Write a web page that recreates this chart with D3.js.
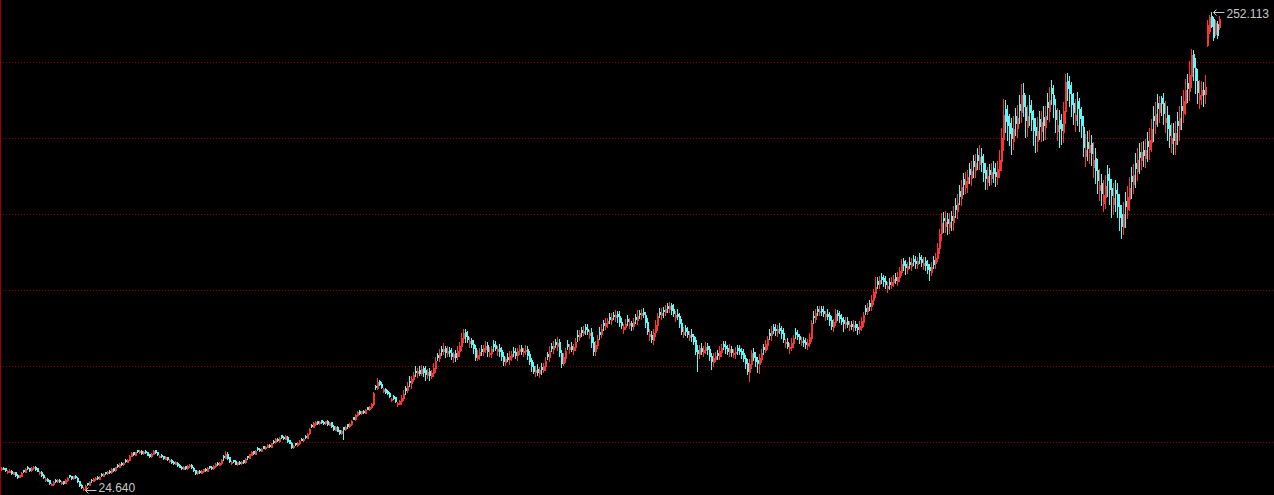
<!DOCTYPE html>
<html><head><meta charset="utf-8">
<script src="https://cdn.jsdelivr.net/npm/d3@7"></script>
<style>html,body{margin:0;padding:0;background:#000;overflow:hidden}</style>
</head><body>
<svg id="chart" width="1274" height="495"></svg>
<script>
const open = [
34.4,35.3,34.9,33.0,33.4,33.8,32.4,33.1,31.8,30.9,
31.5,34.0,33.3,35.5,35.0,34.0,34.9,35.6,34.9,32.6,
33.3,32.0,29.3,30.0,29.2,27.1,27.5,29.6,28.7,29.6,
27.9,28.7,28.1,29.4,31.6,31.1,30.4,31.4,30.4,28.8,
27.2,25.0,25.4,27.8,27.2,29.6,29.0,29.7,30.8,30.0,
32.3,31.5,33.1,32.5,33.7,33.2,34.9,34.2,36.5,35.8,
37.6,36.8,39.0,38.1,39.0,40.9,42.5,41.5,43.6,42.5,
43.4,42.1,43.4,42.5,41.6,40.7,41.9,43.5,42.6,40.5,
41.4,40.7,39.6,40.2,38.4,39.0,38.1,37.1,37.6,36.6,
35.8,34.8,35.9,35.1,35.9,36.6,35.2,34.0,32.6,33.9,
32.9,33.5,34.8,33.9,35.9,35.8,35.0,36.0,37.5,36.6,
37.5,40.8,40.0,42.0,40.2,37.5,38.8,38.5,37.0,38.2,
37.3,38.7,37.9,40.7,40.0,41.4,43.0,42.0,44.6,44.3,
43.4,45.4,44.6,45.2,46.2,45.2,48.1,47.3,49.1,48.0,
50.6,50.0,49.1,50.0,48.2,47.0,44.9,46.9,46.1,46.9,
49.1,48.3,50.5,49.6,51.6,55.8,54.8,56.1,57.4,56.3,
57.8,57.2,56.4,57.5,55.8,56.8,55.3,53.4,54.6,53.1,
51.6,54.4,53.6,55.9,55.0,56.0,59.2,58.4,60.3,62.2,
61.2,62.3,61.5,64.0,63.2,64.1,65.6,74.3,73.0,76.3,
75.3,71.8,72.8,71.6,70.9,67.6,69.4,68.7,65.4,65.8,
67.0,68.4,73.2,72.2,76.6,75.6,77.4,81.4,80.2,81.8,
80.4,82.6,81.6,79.6,81.2,79.0,80.5,82.7,89.0,87.6,
91.8,90.6,92.0,89.8,91.4,90.0,88.1,89.6,88.2,90.6,
93.2,96.8,99.8,98.0,94.6,95.8,94.2,92.2,87.6,88.7,
91.8,90.6,91.8,93.6,89.2,89.8,94.2,93.6,90.8,92.0,
91.2,88.6,85.6,88.0,86.8,88.0,91.0,90.4,88.8,90.6,
92.0,90.2,90.6,91.8,89.2,86.4,83.6,80.8,82.2,80.4,
83.0,81.8,83.6,89.2,87.8,93.0,91.6,95.0,93.2,95.0,
89.8,85.0,87.6,94.0,91.6,93.0,91.4,92.8,98.6,97.4,
100.6,99.4,102.0,101.2,98.6,99.6,95.2,90.8,93.6,99.8,
98.8,104.0,102.6,104.0,107.0,105.6,108.0,106.8,108.4,107.6,
104.4,101.4,102.4,106.2,103.2,104.0,102.6,106.8,105.6,109.0,
107.8,109.2,108.0,104.4,97.8,98.6,96.2,99.6,103.0,109.4,
107.8,110.4,109.2,112.2,110.8,112.6,110.8,107.2,108.6,107.6,
104.0,98.8,101.6,100.4,97.6,99.0,97.8,95.8,91.4,89.2,
92.4,90.2,91.2,93.0,91.6,88.4,85.6,87.2,90.0,88.6,
90.2,94.2,93.4,92.0,90.4,91.8,89.2,89.6,92.2,91.6,
90.8,89.6,87.6,85.2,80.8,84.6,90.2,88.0,86.4,84.4,
87.2,92.6,91.4,93.8,99.4,98.2,102.0,101.4,100.0,101.8,
101.0,99.4,94.4,95.2,92.0,92.6,94.4,99.8,99.0,97.8,
95.0,96.0,95.0,93.6,94.6,97.2,107.4,106.2,110.6,109.2,
110.8,110.0,107.4,108.6,107.8,105.4,102.4,104.6,108.8,108.0,
106.6,105.4,103.6,105.2,102.6,103.8,102.0,103.6,102.4,101.2,
102.4,104.8,111.2,109.8,113.4,112.0,115.0,118.4,124.0,122.6,
126.0,125.4,124.2,120.8,123.8,122.4,123.8,126.0,124.2,126.0,
128.6,133.4,132.2,129.8,133.2,131.4,134.6,133.8,132.0,135.6,
134.6,131.6,133.4,132.0,130.6,128.6,134.0,132.6,135.2,140.0,
146.8,154.2,150.4,153.6,149.6,155.0,152.4,160.4,157.6,166.8,
163.6,172.6,168.8,170.6,177.4,173.0,181.0,177.0,184.0,180.0,
183.6,180.4,176.8,171.4,177.0,173.2,178.0,176.2,173.4,177.0,
181.0,191.6,206.0,202.6,199.4,196.8,190.6,202.8,197.0,208.4,
204.6,213.8,207.0,197.6,208.0,205.0,201.6,197.4,190.6,201.0,
195.6,202.2,197.2,209.4,205.0,216.0,212.4,205.6,195.4,200.6,
198.6,195.0,204.8,219.4,217.6,213.0,208.8,200.8,209.6,205.8,
202.4,197.6,183.4,190.4,185.6,189.6,178.4,182.6,177.0,167.4,
170.6,161.2,164.0,175.2,172.8,168.4,160.8,167.6,165.4,160.2,
156.0,149.6,162.0,158.4,163.0,174.0,170.2,180.4,176.6,185.4,
181.6,186.6,182.6,190.6,186.8,190.2,202.8,198.6,208.6,204.6,
211.0,209.0,199.6,203.0,198.4,189.6,194.4,189.4,200.4,196.4,
207.6,204.0,208.6,218.4,214.6,221.6,232.0,225.6,219.2,210.8,
212.8,215.2,213.2,236.4,243.0,250.2,248.8,241.5,246.6,244.8
];
const high = [
35.5,35.7,35.2,34.1,34.4,34.0,33.4,33.3,32.1,32.0,
33.0,34.3,35.0,35.9,35.3,35.5,36.0,35.9,35.1,33.6,
33.5,32.2,30.6,30.3,29.4,28.2,28.7,29.9,29.9,29.9,
28.9,29.0,29.7,30.8,31.9,31.4,31.5,31.7,30.7,29.1,
27.5,26.2,26.8,28.1,28.9,29.9,30.3,30.8,31.1,31.4,
32.6,32.6,33.4,33.8,34.0,35.0,35.2,35.8,36.8,37.6,
37.9,38.0,39.3,39.3,41.2,42.6,42.8,42.9,43.9,43.6,
43.7,43.3,43.7,42.8,41.9,42.3,43.6,43.8,42.9,41.3,
41.7,41.0,40.7,40.5,39.3,39.3,38.4,38.3,37.9,36.9,
36.1,36.0,36.2,36.6,36.9,36.9,35.5,34.3,33.9,34.2,
34.0,34.8,35.1,35.4,36.2,36.1,36.5,37.4,37.8,38.0,
39.5,41.1,43.2,42.6,40.5,38.4,39.1,38.8,38.2,38.5,
38.6,39.0,39.8,41.0,42.0,43.1,43.3,43.7,44.9,44.6,
44.5,45.7,45.7,46.5,46.5,47.2,48.4,49.3,49.4,49.8,
50.9,50.3,50.7,50.3,48.5,47.3,46.2,47.2,47.4,48.2,
49.4,49.5,50.8,51.9,54.1,56.1,56.8,57.5,57.7,57.7,
58.1,57.5,57.7,57.8,57.0,57.1,55.6,54.9,54.9,53.4,
53.0,54.7,55.0,56.2,56.5,57.9,59.5,60.8,62.2,62.5,
62.4,62.6,63.1,64.3,64.6,66.2,71.4,74.8,78.0,77.2,
75.8,73.2,73.3,72.0,71.3,68.6,69.8,69.1,66.6,67.6,
69.8,72.4,74.2,76.0,79.0,78.7,81.0,83.6,82.6,83.6,
84.2,83.6,83.7,82.3,82.9,81.6,85.2,87.8,90.0,91.7,
93.4,94.4,93.2,93.0,92.7,92.0,90.4,91.3,93.4,94.9,
99.3,101.4,101.2,100.2,97.3,96.9,96.1,93.6,91.3,92.2,
93.6,93.5,95.5,95.0,92.6,93.1,95.9,95.7,93.1,93.9,
92.6,90.5,88.1,89.7,90.6,90.9,92.6,92.4,92.1,93.7,
93.7,92.3,93.7,93.2,91.0,87.5,85.6,83.5,84.5,83.0,
84.9,85.2,87.9,90.3,93.2,94.5,95.5,96.4,97.6,96.4,
91.4,89.8,92.3,95.9,94.3,95.1,94.0,96.9,101.0,100.7,
102.0,102.8,103.6,103.6,100.8,101.5,97.3,95.4,98.4,102.0,
103.7,105.5,106.4,106.6,108.8,109.1,109.2,110.2,110.0,109.7,
106.3,103.8,106.1,107.7,106.4,105.3,106.6,108.5,110.1,110.2,
110.7,111.3,109.4,106.3,101.2,100.1,101.4,105.5,109.0,111.4,
111.2,111.9,112.9,113.5,114.0,113.6,113.0,110.0,110.6,109.1,
105.9,102.4,103.1,102.4,100.4,101.2,99.1,97.6,93.5,93.8,
94.4,93.0,94.9,94.6,93.4,89.7,89.6,90.3,91.5,93.0,
94.2,95.7,95.5,93.7,94.0,93.1,91.9,92.8,93.6,93.6,
92.4,91.6,89.0,87.0,87.1,91.5,92.1,90.1,87.7,89.2,
91.8,94.1,96.0,98.0,101.2,102.7,103.4,103.4,103.1,103.9,
102.7,101.5,96.7,97.1,94.5,96.8,98.5,101.6,101.0,99.1,
97.6,97.4,97.1,96.4,99.4,105.6,109.6,110.8,112.1,112.1,
112.4,112.0,109.8,110.8,109.5,107.3,106.1,110.8,110.3,109.8,
108.5,106.9,107.0,106.8,105.2,105.1,105.4,105.3,103.8,104.9,
107.1,109.5,112.6,113.7,115.1,117.2,120.4,126.0,126.0,126.7,
128.0,127.0,126.4,123.8,125.3,125.9,127.1,127.9,128.6,130.6,
134.7,135.1,134.2,133.2,135.4,134.9,136.5,135.9,135.7,137.6,
136.6,135.4,135.3,134.1,132.3,133.2,135.8,137.3,142.3,149.0,
156.3,157.0,157.5,156.4,156.4,157.4,159.6,163.4,165.6,170.0,
172.4,175.4,176.0,177.0,180.2,181.0,184.0,184.5,187.2,188.7,
187.4,184.3,180.4,178.5,179.8,180.3,181.4,180.4,181.1,186.5,
197.0,210.8,210.2,207.8,203.4,201.6,202.4,206.6,208.0,212.8,
217.9,218.4,212.8,207.8,212.8,210.4,205.6,201.8,202.0,205.2,
205.0,207.4,207.5,213.4,216.6,219.8,217.2,210.8,206.5,205.6,
203.4,209.2,222.4,223.0,221.8,218.6,213.4,210.5,214.0,211.2,
207.0,202.6,194.2,195.6,195.9,193.8,190.1,187.2,182.0,177.5,
175.0,172.2,174.4,179.5,177.8,172.6,170.8,172.0,170.7,165.6,
160.5,161.6,166.4,169.3,173.4,178.2,179.8,184.8,187.2,189.6,
190.4,190.8,191.6,195.0,196.8,201.0,207.4,209.1,213.0,212.0,
212.2,213.6,209.8,207.2,203.2,199.2,199.4,200.2,204.6,207.6,
212.2,214.8,220.4,222.8,229.0,234.5,234.2,230.2,225.0,219.6,
219.4,219.0,222.0,248.3,250.7,252.113,249.7,248.3,247.8,250.2
];
const low = [
34.1,34.5,33.8,32.7,33.1,32.3,32.1,31.5,30.4,30.6,
31.2,33.0,33.0,34.6,33.7,33.7,34.6,34.3,33.5,32.3,
31.4,30.2,29.0,28.7,27.6,26.8,27.2,28.6,28.4,28.3,
27.6,27.5,27.8,29.1,30.8,30.1,30.1,30.4,28.6,26.6,
25.7,24.64,25.1,26.9,26.9,28.4,28.7,29.4,29.8,29.7,
31.4,31.2,32.2,32.2,32.7,32.9,33.9,33.9,35.6,35.5,
36.6,36.5,38.0,37.8,38.7,40.6,41.2,41.2,42.6,42.2,
42.0,41.8,42.3,41.1,40.4,40.4,41.6,42.4,41.2,40.2,
40.4,39.5,39.3,38.8,38.1,37.6,37.0,36.8,36.1,35.4,
34.7,34.5,34.6,34.8,35.6,35.0,33.7,32.3,32.3,32.8,
32.6,33.2,33.6,33.6,35.1,34.8,34.7,35.7,36.4,36.3,
37.2,38.8,39.7,39.6,38.0,37.2,37.9,36.8,36.7,37.1,
37.0,37.6,37.6,39.2,39.7,41.1,41.8,41.7,43.6,43.2,
43.1,44.4,44.3,44.9,45.0,44.9,47.1,47.0,47.8,47.7,
49.5,48.9,48.8,47.6,46.8,44.6,44.6,46.0,45.8,46.6,
48.2,48.0,49.5,49.3,51.3,54.6,54.5,55.8,56.0,56.0,
56.6,56.1,56.1,55.7,55.5,54.8,53.3,53.1,52.5,51.1,
51.3,49.0,53.3,54.2,54.7,55.7,58.2,58.1,60.0,61.0,
60.9,61.2,61.2,63.0,62.9,63.8,65.3,72.8,72.6,74.6,
73.2,71.4,70.9,70.2,68.8,67.2,68.1,66.6,64.6,65.4,
65.5,67.5,70.2,71.1,74.0,73.4,76.6,79.0,78.3,79.3,
79.3,78.9,77.2,78.1,77.0,78.1,78.9,80.7,86.5,85.9,
88.8,89.5,88.0,88.4,88.2,86.9,85.7,86.2,87.2,88.6,
91.2,95.3,95.2,95.2,92.7,92.6,89.9,86.3,86.5,86.8,
88.8,88.7,90.2,88.6,88.2,88.0,90.7,91.1,89.1,88.6,
86.3,84.2,84.0,85.8,84.7,86.6,88.2,87.5,86.7,89.5,
89.5,88.3,89.5,87.2,84.6,81.2,80.2,79.1,79.5,78.6,
79.9,80.8,81.7,86.8,85.8,90.6,89.9,92.5,91.1,88.4,
83.3,83.9,85.6,91.7,89.7,90.6,89.5,91.3,95.4,96.2,
97.7,98.2,99.0,99.0,96.9,92.9,88.9,89.0,92.4,96.7,
97.3,100.8,101.3,102.2,104.2,103.4,105.9,104.9,104.8,102.8,
101.5,99.5,101.2,103.0,101.7,100.6,101.3,104.0,103.4,106.7,
105.9,106.8,102.4,98.8,95.9,95.2,94.2,98.0,100.7,106.9,
106.1,107.2,107.9,109.2,109.3,108.4,107.6,105.1,105.8,102.2,
98.7,97.5,98.4,97.4,95.8,95.7,94.1,89.2,81.4,87.3,
89.4,88.2,89.6,89.4,86.7,82.4,83.7,86.0,86.8,86.9,
88.4,91.6,89.7,89.4,88.5,88.6,88.0,87.6,89.4,89.3,
87.4,86.1,82.8,79.7,76.6,82.7,86.3,83.7,80.9,80.1,
85.7,89.5,90.1,91.9,96.7,96.0,99.4,98.6,98.0,99.5,
97.2,95.0,92.7,92.0,89.9,91.1,92.6,96.8,96.3,94.6,
93.6,93.0,92.4,91.6,93.3,95.5,104.2,104.7,107.7,108.0,
107.8,107.5,105.7,106.1,103.2,101.1,100.5,103.0,105.5,104.8,
103.4,100.4,101.7,102.2,100.8,101.1,100.3,100.6,99.0,99.4,
100.9,102.9,108.2,108.5,110.1,110.4,113.2,116.3,121.0,120.7,
123.3,121.8,120.9,119.0,120.5,120.8,121.9,123.0,122.2,124.3,
126.8,129.2,127.5,127.9,130.1,129.4,131.6,130.3,130.2,132.6,
131.1,129.8,129.5,128.0,124.8,126.9,130.3,130.4,133.4,137.6,
143.5,147.4,147.2,146.6,147.0,148.3,148.6,154.4,154.0,160.8,
160.4,165.4,166.0,166.6,170.6,170.0,173.4,173.8,177.2,177.2,
176.6,171.6,167.9,167.8,170.0,170.4,171.0,169.3,170.2,173.4,
177.0,186.6,195.0,191.4,188.6,184.4,186.8,193.4,192.6,199.4,
199.8,202.6,192.6,193.2,198.2,195.8,188.8,185.7,186.0,191.6,
190.6,191.4,191.8,201.2,200.2,208.2,202.1,195.2,191.1,188.0,
189.5,190.2,199.4,210.1,207.2,202.7,198.8,195.6,198.2,195.6,
192.6,183.5,178.6,181.6,180.4,179.1,173.4,170.5,165.9,162.8,
160.2,157.5,159.0,164.6,160.9,154.5,156.2,157.2,154.6,148.6,
144.8,146.4,150.0,154.2,158.0,163.4,165.8,169.0,172.4,175.6,
177.2,178.8,178.4,181.2,182.2,185.8,190.9,194.4,198.0,199.6,
203.0,198.8,195.2,191.4,187.8,185.4,184.3,184.6,189.4,191.4,
196.4,199.6,203.6,209.2,210.4,216.4,219.8,213.8,208.6,206.6,
208.2,207.4,209.0,235.8,242.2,244.9,238.7,241.0,239.6,244.0
];
const close = [
35.1,34.8,34.2,33.6,33.9,32.7,33.0,31.9,30.8,31.6,
32.7,33.5,34.6,35.0,34.1,35.1,35.5,34.8,33.9,33.2,
31.8,30.6,29.8,29.1,28.0,27.5,28.3,29.0,29.4,28.7,
28.5,27.9,29.3,30.4,31.2,30.5,31.1,30.8,29.0,27.0,
26.1,25.2,26.4,27.3,28.5,29.2,29.9,30.4,30.2,31.0,
31.8,32.2,32.6,33.4,33.1,34.6,34.3,35.4,36.0,37.2,
37.0,37.6,38.4,38.9,40.8,42.2,41.6,42.5,43.0,43.2,
42.4,42.9,42.7,41.5,40.8,41.9,43.2,42.8,41.6,40.9,
40.8,39.9,40.3,39.2,38.9,38.0,37.4,37.9,36.5,35.8,
35.1,35.6,35.0,36.2,36.5,35.4,34.1,32.7,33.5,33.2,
33.6,34.4,34.0,35.0,35.5,35.2,36.1,37.0,36.8,37.6,
39.1,40.3,41.8,40.0,38.4,37.9,38.3,37.2,37.8,37.5,
38.2,38.0,39.4,40.2,41.6,42.7,42.2,43.3,44.1,43.6,
44.1,44.8,45.3,46.0,45.4,46.8,47.5,48.9,48.2,49.4,
49.9,49.3,50.2,48.0,47.2,45.1,45.8,46.4,47.0,47.8,
48.6,49.1,49.9,51.5,53.7,55.0,56.3,57.0,56.4,57.2,
57.0,56.5,57.3,56.1,56.6,55.2,53.7,54.5,52.9,51.8,
52.6,53.8,54.6,55.3,56.1,57.5,58.6,60.4,61.8,61.4,
62.0,61.6,62.7,63.4,64.2,65.6,70.8,73.5,76.1,75.2,
73.7,72.6,71.5,70.8,69.3,68.0,68.6,67.1,66.0,67.1,
68.5,70.4,72.4,74.2,75.8,77.5,79.3,80.6,81.4,80.5,
82.3,81.0,79.9,80.8,79.4,80.4,82.6,86.1,88.0,89.6,
90.9,91.8,90.4,90.9,90.2,88.5,89.2,88.0,90.8,93.3,
97.0,99.5,97.8,96.6,95.4,94.2,92.0,88.0,88.9,90.3,
90.9,92.1,93.3,91.0,89.9,91.8,93.3,92.4,91.6,90.9,
88.4,86.1,86.9,87.1,88.3,89.5,90.2,89.1,90.8,91.8,
91.0,90.9,91.5,89.0,86.1,83.5,81.4,81.9,80.9,81.6,
82.3,83.8,86.1,88.4,90.9,92.1,93.3,94.0,94.7,90.2,
85.2,87.8,91.0,93.3,92.6,91.8,92.7,95.0,97.9,99.2,
99.8,100.4,101.1,100.2,99.5,95.3,90.9,93.8,96.6,99.0,
101.4,103.2,104.3,105.2,106.0,106.6,107.3,108.1,107.4,104.5,
103.0,102.3,103.8,105.2,104.1,102.8,104.4,105.9,107.6,108.3,
109.0,108.2,104.6,100.4,98.8,96.6,99.5,103.1,107.6,108.4,
109.0,109.6,110.9,111.4,112.3,110.5,109.0,108.1,107.6,104.2,
100.4,99.7,100.5,99.0,98.5,98.0,95.6,90.9,89.6,92.0,
90.9,91.5,92.5,91.8,88.2,86.1,87.4,88.5,89.1,90.6,
92.3,93.3,92.0,90.9,91.6,90.4,89.9,90.5,91.3,90.9,
89.3,87.6,85.0,81.4,84.8,89.9,88.1,86.0,85.2,87.4,
89.6,91.8,94.0,96.6,98.5,100.4,101.0,100.6,101.4,100.9,
99.2,96.6,95.1,93.4,92.8,94.5,97.0,99.0,97.8,96.4,
95.7,95.0,94.2,94.7,97.3,104.2,106.8,109.0,109.8,110.0,
110.0,109.1,108.2,107.6,105.5,102.8,104.7,108.5,107.9,106.3,
105.2,104.0,104.8,103.8,103.2,102.8,103.3,102.1,101.4,102.6,
105.2,107.8,110.0,111.5,112.3,115.2,118.7,121.4,122.8,124.4,
125.2,124.0,122.6,121.9,122.8,123.7,125.2,124.6,126.1,128.8,
132.4,131.5,130.8,131.4,132.0,132.9,133.4,132.6,133.8,134.5,
133.2,132.9,131.8,130.0,129.4,131.0,132.4,135.0,140.0,146.5,
151.9,153.0,152.4,151.5,152.1,152.9,155.0,158.6,161.4,164.5,
168.6,170.2,171.6,173.4,175.0,176.3,178.6,180.2,181.7,182.9,
180.5,176.2,172.9,174.1,174.8,176.0,175.3,174.0,177.6,181.5,
192.0,203.0,200.4,198.2,194.6,192.0,196.3,199.5,201.5,205.7,
212.5,207.2,200.6,202.8,204.4,201.0,196.0,193.4,195.5,197.8,
199.6,198.4,202.5,206.8,210.0,213.5,208.3,201.0,198.2,197.0,
195.8,205.0,218.7,216.0,213.5,208.4,204.4,203.2,206.3,201.5,
198.2,188.0,186.3,187.5,188.7,185.0,181.5,177.0,172.4,169.6,
166.0,164.8,169.5,172.0,168.0,164.8,163.4,166.2,160.0,154.5,
150.5,156.2,160.0,164.1,168.2,171.5,174.4,178.0,181.5,183.0,
185.3,184.1,186.3,188.4,191.0,196.2,200.6,203.5,206.3,208.7,
208.7,204.0,201.5,197.0,193.4,192.0,191.0,194.5,198.2,201.9,
205.4,209.6,214.9,215.8,222.0,231.6,226.0,219.7,214.0,212.5,
214.9,213.0,216.5,246.0,249.6,245.6,240.2,247.0,241.4,249.0
];

const W = 1274, H = 495;
const svg = d3.select("#chart");
svg.append("rect").attr("width", W).attr("height", H).attr("fill", "#000");

const n = close.length;
const x = d3.scaleBand().domain(d3.range(n)).range([1, 1 + 2 * n]).padding(0);
const lo = d3.min(low), hi = d3.max(high);
const y = d3.scaleLinear().domain([lo, hi]).range([490, 12]);

// dotted horizontal grid (evenly spaced panel divisions)
const gridY = d3.range(6).map(k => 62 + 76 * k);
svg.append("g").selectAll("line").data(gridY).join("line")
  .attr("x1", 3).attr("x2", W)
  .attr("y1", d => d + 0.5).attr("y2", d => d + 0.5)
  .attr("stroke", "#8c0000").attr("stroke-width", 1)
  .attr("stroke-dasharray", "1,2");

// left frame line
svg.append("rect").attr("x", 0).attr("y", 0).attr("width", 1).attr("height", H).attr("fill", "#a00000");

const data = d3.range(n).map(i => ({ i, o: open[i], h: high[i], l: low[i], c: close[i] }));
const col = d => d.c >= d.o ? "#ff3232" : "#54fcfc";
const g = svg.append("g").attr("shape-rendering", "crispEdges");

const yTop = d => Math.round(y(Math.max(d.h, d.o, d.c)));
const yBot = d => Math.round(y(Math.min(d.l, d.o, d.c)));

g.selectAll("rect.wick").data(data).join("rect").attr("class", "wick")
  .attr("x", d => x(d.i))
  .attr("width", 1)
  .attr("y", yTop)
  .attr("height", d => Math.max(1, yBot(d) - yTop(d) + 1))
  .attr("fill", col);

g.selectAll("rect.body").data(data).join("rect").attr("class", "body")
  .attr("x", d => x(d.i))
  .attr("width", x.bandwidth())
  .attr("y", d => Math.round(y(Math.max(d.o, d.c))))
  .attr("height", d => Math.max(1, Math.round(y(Math.min(d.o, d.c))) - Math.round(y(Math.max(d.o, d.c))) + 1))
  .attr("fill", col);

// max / min markers
const fmt = d3.format(".3f");
const labelColor = "#c8c8c8";
function marker(i, val, dy) {
  const tipX = x(i) + x.bandwidth() + 0.5;
  const tipY = Math.round(y(val)) + 0.5;
  const textX = tipX + 13;
  const m = svg.append("g");
  m.append("path")
    .attr("d", `M${tipX + 3},${tipY - 3}L${tipX},${tipY}L${tipX + 3},${tipY + 3}M${tipX},${tipY}H${textX - 2}`)
    .attr("fill", "none").attr("stroke", labelColor).attr("stroke-width", 1);
  m.append("text")
    .attr("x", textX).attr("y", tipY + dy)
    .attr("fill", labelColor)
    .attr("font-family", "'Liberation Sans', Arial, sans-serif")
    .attr("font-size", 12)
    .text(fmt(val));
}
marker(d3.maxIndex(high), hi, 5.5);
marker(d3.minIndex(low), lo, 1.5);
</script>
</body></html>
